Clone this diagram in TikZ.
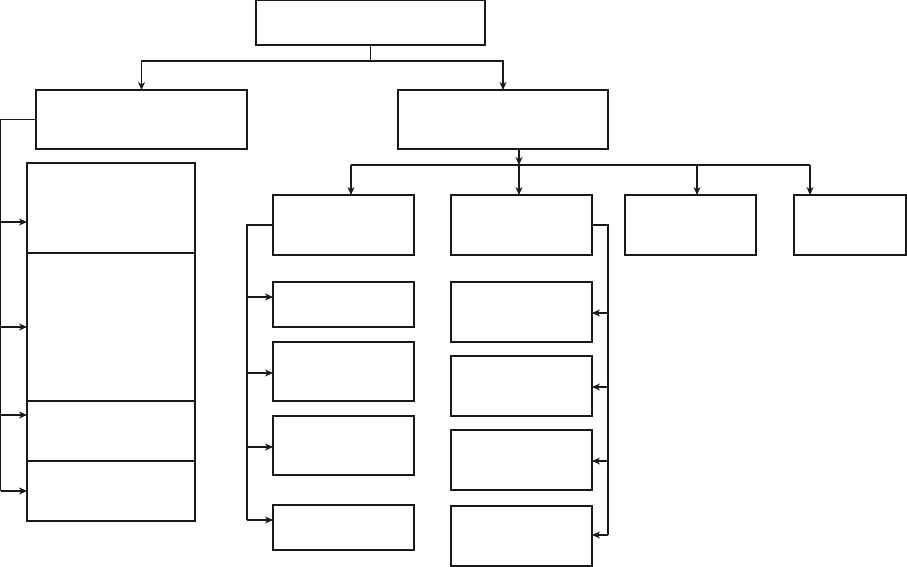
\documentclass[tikz,border=0pt]{standalone}
\usetikzlibrary{arrows.meta}
\begin{document}
\begin{tikzpicture}[x=1pt,y=-1pt,
  box/.style={draw=black!90,line width=1.1pt,rectangle,inner sep=0pt,outer sep=0pt,anchor=north west},
  conn/.style={draw=black!90,line width=1.1pt},
  arr/.style={conn,-{Stealth[length=8pt,width=7pt,inset=2.5pt]}}]
\useasboundingbox (0,0) rectangle (907,567);
% top level
\node[box,minimum width=229pt,minimum height=44.3pt] (top) at (256,0.7) {};
\node[box,minimum width=211pt,minimum height=59pt] (L1) at (36,90) {};
\node[box,minimum width=210pt,minimum height=59pt] (R1) at (398,90) {};
% left column
\node[box,minimum width=168pt,minimum height=90pt] (C1) at (27,163) {};
\node[box,minimum width=168pt,minimum height=148pt] (C2) at (27,253) {};
\node[box,minimum width=168pt,minimum height=60pt] (C3) at (27,401) {};
\node[box,minimum width=168pt,minimum height=60pt] (C4) at (27,461) {};
% second row
\node[box,minimum width=141pt,minimum height=60pt] (B1) at (273,195) {};
\node[box,minimum width=141pt,minimum height=60pt] (B2) at (451,195) {};
\node[box,minimum width=131pt,minimum height=60pt] (B3) at (625,195) {};
\node[box,minimum width=112pt,minimum height=60pt] (B4) at (794,195) {};
% sub column under B1
\node[box,minimum width=141pt,minimum height=45pt] (S1) at (273,282) {};
\node[box,minimum width=141pt,minimum height=59pt] (S2) at (273,342) {};
\node[box,minimum width=141pt,minimum height=59pt] (S3) at (273,416) {};
\node[box,minimum width=141pt,minimum height=45pt] (S4) at (273,505) {};
% sub column under B2
\node[box,minimum width=141pt,minimum height=60pt] (T1) at (451,282) {};
\node[box,minimum width=141pt,minimum height=60pt] (T2) at (451,356) {};
\node[box,minimum width=141pt,minimum height=60pt] (T3) at (451,430) {};
\node[box,minimum width=141pt,minimum height=60pt] (T4) at (451,506) {};
% top connectors
\coordinate (j1) at (370.5,61);
\draw[conn] (top.south) -- (j1);
\draw[arr] (j1) -| (L1.north);
\draw[arr] (j1) -| (R1.north);
% left trunk
\coordinate (a1) at (0.7,222);
\coordinate (a2) at (0.7,327);
\coordinate (a3) at (0.7,415);
\coordinate (a4) at (0.7,491);
\draw[conn] (L1.west) -| (a4);
\draw[arr] (a1) -- (a1 -| C1.west);
\draw[arr] (a2) -- (a2 -| C2.west);
\draw[arr] (a3) -- (a3 -| C3.west);
\draw[arr] (a4) -- (a4 -| C4.west);
% R1 bus
\coordinate (h) at (519,165);
\coordinate (d1) at (351,165);
\coordinate (d2) at (519,165);
\coordinate (d3) at (697,165);
\coordinate (d4) at (810,165);
\draw[arr] (h |- R1.south) -- (h);
\draw[conn] (d1) -- (d4);
\draw[arr] (d1) -- (d1 |- B1.north);
\draw[arr] (d2) -- (d2 |- B2.north);
\draw[arr] (d3) -- (d3 |- B3.north);
\draw[arr] (d4) -- (d4 |- B4.north);
% B1 trunk
\coordinate (s1) at (247,297);
\coordinate (s2) at (247,373);
\coordinate (s3) at (247,447);
\coordinate (s4) at (247,520);
\draw[conn] (B1.west) -| (s4);
\draw[arr] (s1) -- (s1 -| S1.west);
\draw[arr] (s2) -- (s2 -| S2.west);
\draw[arr] (s3) -- (s3 -| S3.west);
\draw[arr] (s4) -- (s4 -| S4.west);
% B2 trunk
\coordinate (t1) at (608,313);
\coordinate (t2) at (608,387);
\coordinate (t3) at (608,461);
\coordinate (t4) at (608,535);
\draw[conn] (B2.east) -| (t4);
\draw[arr] (t1) -- (t1 -| T1.east);
\draw[arr] (t2) -- (t2 -| T2.east);
\draw[arr] (t3) -- (t3 -| T3.east);
\draw[arr] (t4) -- (t4 -| T4.east);
\end{tikzpicture}
\end{document}
